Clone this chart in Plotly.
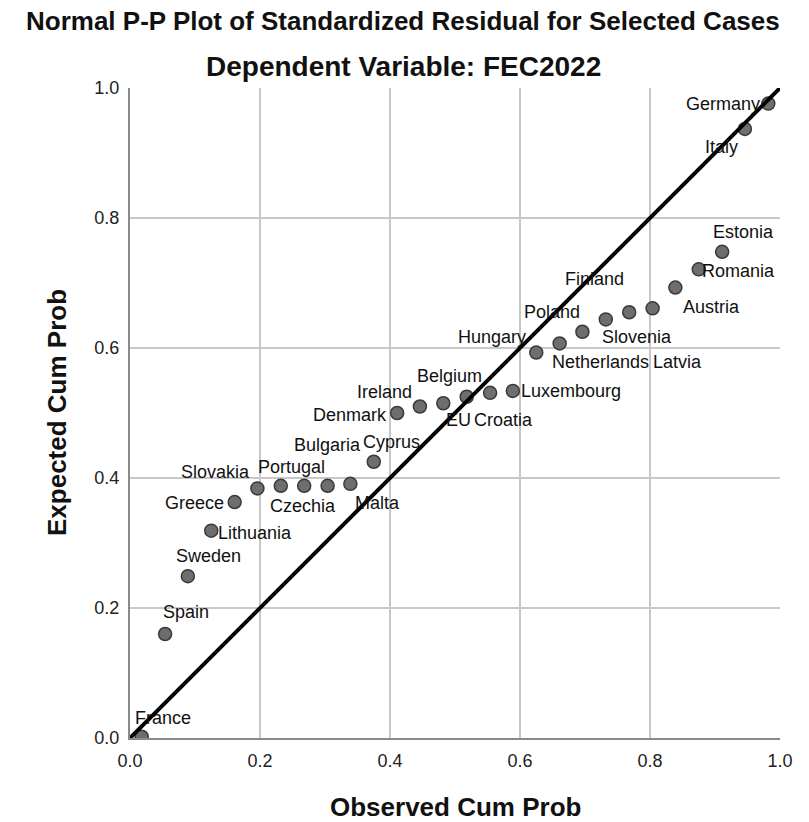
# Normal P-P plot of standardized residuals (dependent variable FEC2022), SPSS style.

import plotly.graph_objects as go

# Cases in order of observed cumulative probability
countries = ['France', 'Spain', 'Sweden', 'Lithuania', 'Greece', 'Slovakia', 'Portugal',
             'Czechia', 'Bulgaria', 'Malta', 'Cyprus', 'Denmark', 'Ireland', 'Belgium',
             'EU', 'Croatia', 'Luxembourg', 'Hungary', 'Netherlands', 'Poland', 'Finland',
             'Slovenia', 'Latvia', 'Austria', 'Romania', 'Estonia', 'Italy', 'Germany']

observed_cum_prob = [0.018, 0.054, 0.089, 0.125, 0.161, 0.196, 0.232, 0.268, 0.304, 0.339,
                     0.375, 0.411, 0.446, 0.482, 0.518, 0.554, 0.589, 0.625, 0.661, 0.696,
                     0.732, 0.768, 0.804, 0.839, 0.875, 0.911, 0.946, 0.982]

expected_cum_prob = [0.002, 0.160, 0.249, 0.319, 0.363, 0.384, 0.388, 0.388, 0.388, 0.391,
                     0.425, 0.500, 0.510, 0.515, 0.525, 0.531, 0.534, 0.593, 0.607, 0.625,
                     0.644, 0.655, 0.661, 0.693, 0.721, 0.748, 0.937, 0.976]

tick_vals = [0.0, 0.2, 0.4, 0.6, 0.8, 1.0]
tick_text = ['0.0', '0.2', '0.4', '0.6', '0.8', '1.0']

# where each label sits relative to its point (pixels, right / up)
label_offsets = {
    'France': (21, 19), 'Spain': (21, 22), 'Sweden': (21, 20), 'Lithuania': (44, -2),
    'Greece': (-40, -1), 'Slovakia': (-42, 16), 'Portugal': (11, 19), 'Czechia': (-1, -20),
    'Bulgaria': (0, 41), 'Malta': (27, -19), 'Cyprus': (18, 20), 'Denmark': (-47, -2),
    'Ireland': (-35, 15), 'Belgium': (6, 27), 'EU': (-8, -23), 'Croatia': (13, -27),
    'Luxembourg': (58, 0), 'Hungary': (-44, 16), 'Netherlands': (41, -19), 'Poland': (-30, 20),
    'Finland': (-11, 40), 'Slovenia': (8, -25), 'Latvia': (25, -54), 'Austria': (36, -19),
    'Romania': (40, -2), 'Estonia': (21, 20), 'Italy': (-23, -18), 'Germany': (-45, 0),
}

font_family = 'Arial, Liberation Sans, sans-serif'

fig = go.Figure()

# the case points
fig.add_trace(go.Scatter(
    x=observed_cum_prob, y=expected_cum_prob, mode='markers',
    marker=dict(size=13, color='#6e6e6e', line=dict(color='#3a3a3a', width=1.5)),
    hoverinfo='text', text=countries, showlegend=False))

# the 45 degree reference line
fig.add_trace(go.Scatter(
    x=[0, 1], y=[0, 1], mode='lines',
    line=dict(color='black', width=4), hoverinfo='skip', showlegend=False))

# case labels
for name, ox, oy in zip(countries, observed_cum_prob, expected_cum_prob):
    dx, dy = label_offsets[name]
    fig.add_annotation(x=ox, y=oy, text=name, showarrow=False,
                       xshift=dx, yshift=dy, xanchor='center', yanchor='middle',
                       font=dict(family=font_family, size=18, color='#111111'))

# two title lines
fig.add_annotation(xref='paper', yref='paper', x=0.42, y=1, yshift=67, showarrow=False,
                   text='<b>Normal P-P Plot of Standardized Residual for Selected Cases</b>',
                   xanchor='center', yanchor='middle',
                   font=dict(family=font_family, size=26, color='#111111'))
fig.add_annotation(xref='paper', yref='paper', x=0.42, y=1, yshift=22, showarrow=False,
                   text='<b>Dependent Variable: FEC2022</b>',
                   xanchor='center', yanchor='middle',
                   font=dict(family=font_family, size=28, color='#111111'))

# axis titles
fig.add_annotation(xref='paper', yref='paper', x=0.5, y=0, yshift=-69, showarrow=False,
                   text='<b>Observed Cum Prob</b>', xanchor='center', yanchor='middle',
                   font=dict(family=font_family, size=26, color='#111111'))
fig.add_annotation(xref='paper', yref='paper', x=0, y=0.5, xshift=-73, showarrow=False,
                   text='<b>Expected Cum Prob</b>', textangle=-90,
                   xanchor='center', yanchor='middle',
                   font=dict(family=font_family, size=26, color='#111111'))

axis_style = dict(range=[0, 1], tickvals=tick_vals, ticktext=tick_text,
                  showgrid=True, gridcolor='#c8c8c8', gridwidth=2,
                  showline=True, linecolor='#8a8a8a', linewidth=2,
                  zeroline=False, ticks='', ticklabelstandoff=5,
                  tickfont=dict(family=font_family, size=18, color='#222222'))

fig.update_xaxes(**axis_style)
fig.update_yaxes(**axis_style)

# page body adds 8px on the top/left, so the figure is 8px smaller
fig.update_layout(width=801, height=814,
                  margin=dict(l=122, r=29, t=80, b=84),
                  plot_bgcolor='white', paper_bgcolor='white')

fig.write_html("out.html")
